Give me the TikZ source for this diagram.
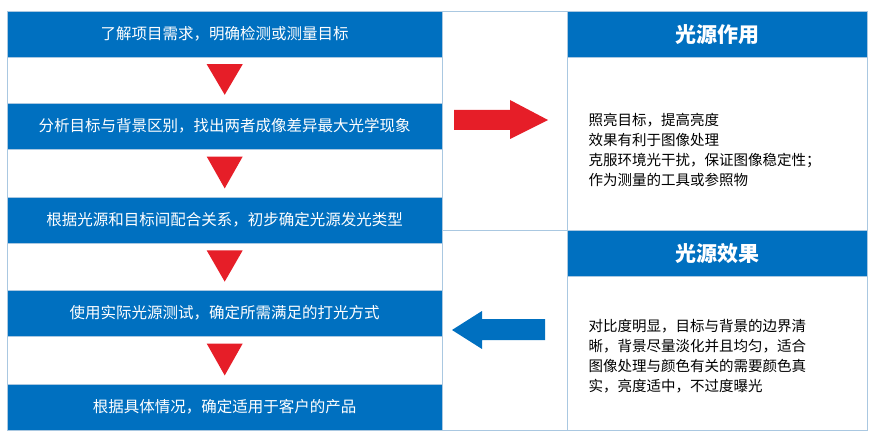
\documentclass[tikz,border=0pt]{standalone}
\usepackage{fontspec}
\setmainfont{Noto Sans CJK SC}
\usetikzlibrary{positioning, calc}
\definecolor{barblue}{RGB}{0,112,192}
\definecolor{edgeblue}{RGB}{170,200,225}
\definecolor{arrred}{RGB}{230,30,40}
\tikzset{
	stepbar/.style={fill=barblue, draw=edgeblue, minimum width=435pt, minimum height=46pt, inner sep=0pt, text=white, font=\fontsize{15.5}{18}\selectfont},
	headbar/.style={fill=barblue, draw=edgeblue, minimum width=300pt, minimum height=46pt, inner sep=0pt, text=white, font=\fontsize{21}{24}\selectfont\bfseries},
	bodybox/.style={draw=edgeblue, fill=white, minimum width=300pt, inner sep=0pt},
	bodytext/.style={align=left, font=\fontsize{14.5}{20}\selectfont},
	downmark/.style={fill=arrred, draw=none}
}
\begin{document}
\begin{tikzpicture}[x=1pt, y=-1pt]
	\useasboundingbox (0,0) rectangle (882,438);
	
	% left column
	\draw[edgeblue, fill=white] (7,57) rectangle (442,384);
	\node[stepbar, anchor=north west] (s1) at (7,11) {了解项目需求，明确检测或测量目标};
	\node[stepbar, anchor=north west] (s2) at (7,103) {分析目标与背景区别，找出两者成像差异最大光学现象};
	\node[stepbar, anchor=north west] (s3) at (7,197) {根据光源和目标间配合关系，初步确定光源发光类型};
	\node[stepbar, anchor=north west] (s4) at (7,290) {使用实际光源测试，确定所需满足的打光方式};
	\node[stepbar, anchor=north west] (s5) at (7,384) {根据具体情况，确定适用于客户的产品};
	
	\foreach \a/\b in {s1/s2, s2/s3, s3/s4, s4/s5}
		\fill[downmark] ($(\a.south)!0.15!(\b.north)+(-18,0)$) -- ($(\a.south)!0.15!(\b.north)+(18,0)$) -- ($(\a.south)!0.82!(\b.north)$) -- cycle;
	
	% middle column
	\draw[edgeblue] (442,11) rectangle (567,230);
	\draw[edgeblue] (442,230) rectangle (567,430);
	\fill[arrred] (454,110) -- (510,110) -- (510,100) -- (548,120) -- (510,139) -- (510,130) -- (454,130) -- cycle;
	\fill[barblue] (545,319) -- (482,319) -- (482,311) -- (452,330) -- (482,349) -- (482,340) -- (545,340) -- cycle;
	
	% right column
	\node[headbar, anchor=north west] (h1) at (567,11) {光源作用};
	\node[bodybox, anchor=north, minimum height=173pt, below=0pt of h1] (b1) {};
	\node[headbar, anchor=north west] (h2) at (567,230) {光源效果};
	\node[bodybox, anchor=north, minimum height=154pt, below=0pt of h2] (b2) {};
	\node[bodytext, anchor=west] (t1) at ([xshift=18pt, yshift=-6pt]b1.west) {照亮目标，提高亮度\\效果有利于图像处理\\克服环境光干扰，保证图像稳定性；\\作为测量的工具或参照物};
	\node[bodytext, anchor=west] (t2) at ([xshift=18pt, yshift=-3pt]b2.west) {对比度明显，目标与背景的边界清\\晰，背景尽量淡化并且均匀，适合\\图像处理与颜色有关的需要颜色真\\实，亮度适中，不过度曝光};
\end{tikzpicture}
\end{document}
